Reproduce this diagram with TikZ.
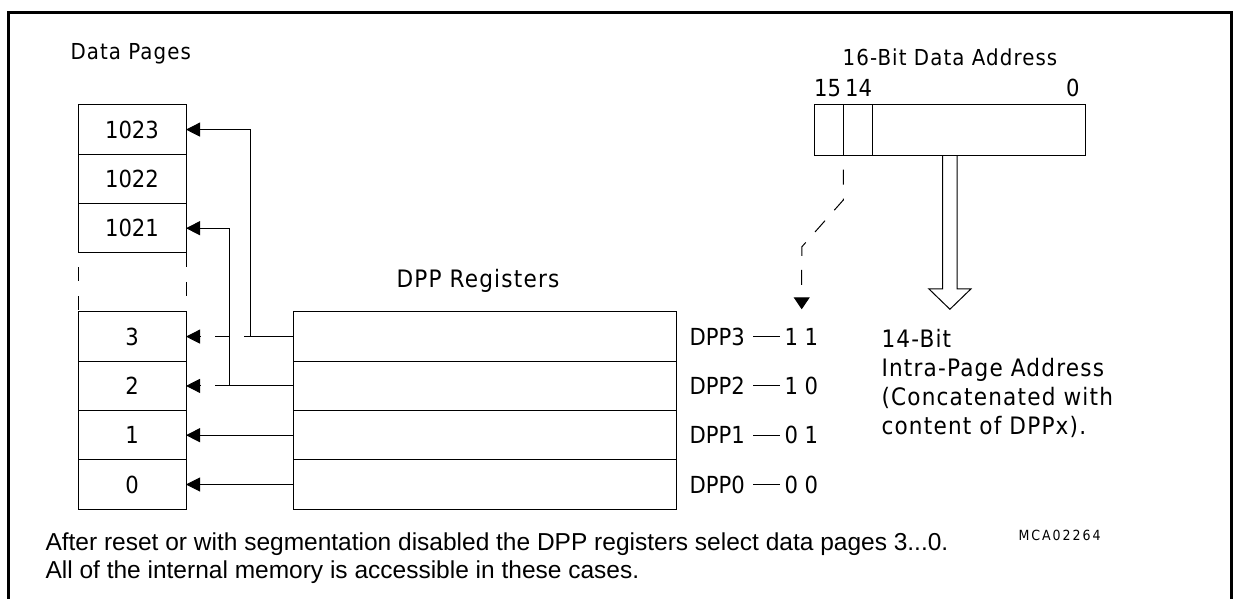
\documentclass[tikz,border=0pt]{standalone}
\usepackage{fontspec}
\setmainfont{Liberation Sans}
\newfontfamily\isofont{DejaVu Sans Condensed}
\newfontfamily\isowide{DejaVu Sans Condensed}[LetterSpace=5]
\newfontfamily\isotiny{DejaVu Sans Condensed}[LetterSpace=14]
\usetikzlibrary{arrows.meta,positioning}

\tikzset{
  page/.style={draw, minimum width=108pt, minimum height=49.3pt, inner sep=0pt, outer sep=0pt,
    font=\isofont\fontsize{23.5}{28}\selectfont},
  dppreg/.style={draw, minimum width=383.7pt, minimum height=49.3pt, inner sep=0pt, outer sep=0pt},
  tag/.style={inner sep=0pt, font=\isofont\fontsize{23.5}{29.3}\selectfont},
  heading/.style={inner sep=0pt, font=\isowide\fontsize{22}{26}\selectfont},
}

\begin{document}
\begin{tikzpicture}[x=1pt,y=-1pt,>={Triangle[length=14pt,width=14pt]},line width=1pt,node distance=0pt]
  \useasboundingbox (0,0) rectangle (1234,599);
  \draw[line width=2.7pt] (8.3,599) -- (8.3,12.7) -- (1231.7,12.7) -- (1231.7,599);

  % data pages
  \node[heading, anchor=west] (pagestitle) at (70,54) {Data Pages};
  \node[page] (p1023) at (132,129.6) {1023};
  \node[page] (p1022) [below=of p1023] {1022};
  \node[page] (p1021) [below=of p1022] {1021};
  \node[page] (p3) at (132,336.6) {3};
  \node[page] (p2) [below=of p3] {2};
  \node[page] (p1) [below=of p2] {1};
  \node[page] (p0) [below=of p1] {0};
  \draw[dash pattern=on 14pt off 15pt, dash phase=14.5pt] (p1021.south west) -- (p3.north west);
  \draw[dash pattern=on 14pt off 15pt] (p1021.south east) -- (p3.north east);

  % DPP registers
  \node[heading, font=\isowide\fontsize{24}{28}\selectfont] (regstitle) at (478,281) {DPP Registers};
  \node[dppreg] (d3) [right=107pt of p3] {};
  \node[dppreg] (d2) [below=of d3] {};
  \node[dppreg] (d1) [below=of d2] {};
  \node[dppreg] (d0) [below=of d1] {};
  \foreach \i/\bits in {3/1 1,2/1 0,1/0 1,0/0 0} {
    \node[tag] (n\i) [right=12.3pt of d\i] {DPP\i};
    \node[tag, anchor=west] (b\i) at ([xshift=107.3pt]d\i.east) {\bits};
    \draw[shorten <=8pt, shorten >=4pt] (n\i.east) -- (b\i.west);
  }

  \path[->] (d3.west) edge [dash pattern=on 49pt off 15pt on 14pt off 15pt] (p3.east)
            (d2.west) edge [dash pattern=on 78pt off 15pt] (p2.east)
            (d1.west) edge (p1.east)
            (d0.west) edge (p0.east);
  \draw[->] (d3.west) -- ++(-42.3,0) |- (p1023.east);
  \draw[->] (d2.west) -- ++(-64,0) |- (p1021.east);

  % 16-bit address
  \node[draw, minimum width=271.7pt, minimum height=50.7pt, inner sep=0pt, outer sep=0pt] (addr) at (949.9,130.3) {};
  \node[heading] (addrtitle) at (950,57) {16-Bit Data Address};
  \draw ([xshift=29.3pt]addr.north west) -- ([xshift=29.3pt]addr.south west) coordinate (b14);
  \draw ([xshift=58.3pt]addr.north west) -- ([xshift=58.3pt]addr.south west);
  \node[tag] (l15) at ([xshift=13.5pt, yshift=17pt]addr.north west) {15};
  \node[tag] (l14) at ([xshift=44.5pt, yshift=17pt]addr.north west) {14};
  \node[tag] (l0) at ([xshift=-13pt, yshift=17pt]addr.north east) {0};

  \coordinate (sel) at (801.7,309.3);
  \draw[-{Triangle[length=12pt,width=16pt]}, dash pattern=on 15pt off 14pt, dash phase=15pt]
    (b14) -- ++(0,44.3) -- ++(-41.6,47) -- (sel);

  % intra-page address
  \draw ([xshift=-7.3pt]addr.south) -- ++(0,133.3) -- ++(-13.7,0) -- ++(21,20.3)
    -- ++(21,-20.3) -- ++(-13.7,0) -- ([xshift=7.3pt]addr.south);
  \node[tag, anchor=north west, align=left, font=\isowide\fontsize{24}{29.3}\selectfont] (ipa) at (881,328.3)
    {14-Bit\\Intra-Page Address\\(Concatenated with\\content of DPPx).};

  \node[inner sep=0pt, anchor=west, font=\isotiny\fontsize{14}{16}\selectfont] (fig) at (1018,535) {MCA02264};
  \node[inner sep=0pt, anchor=north west, align=left, font=\fontsize{24.5}{28}\selectfont] (note) at (45,532)
    {After reset or with segmentation disabled the DPP registers select data pages 3...0.\\
     All of the internal memory is accessible in these cases.};
\end{tikzpicture}
\end{document}
